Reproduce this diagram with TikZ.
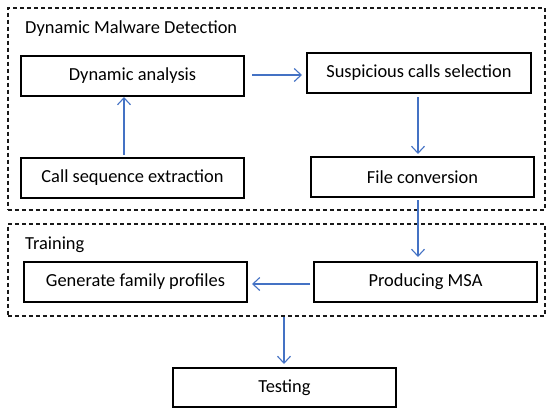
\documentclass[tikz,border=0pt]{standalone}
\usepackage{fontspec}
\setmainfont{Carlito}
\usetikzlibrary{arrows.meta}
\definecolor{arrowblue}{HTML}{4472C4}
\begin{document}
\begin{tikzpicture}[x=1pt,y=-1pt,
  procbox/.style={draw=black,line width=1.6pt,fill=white},
  group/.style={draw=black!90,line width=1.5pt,dash pattern=on 4pt off 3pt},
  flow/.style={draw=arrowblue,line width=1.1pt,-{Straight Barb[length=7pt,width=13pt]}},
  lbl/.style={font=\fontsize{18.4}{20}\selectfont}]
\useasboundingbox (0,0) rectangle (550,415);
% groups
\node[group,minimum width=537pt,minimum height=202pt,anchor=north west,inner sep=0pt] (g1) at (7,7) {};
\node[group,minimum width=537pt,minimum height=92pt,anchor=north west,inner sep=0pt] (g2) at (7,223) {};
\node[lbl,anchor=base west,inner sep=0pt] (t1) at (25,33) {Dynamic Malware Detection};
\node[lbl,anchor=base west,inner sep=0pt] (t2) at (25,249) {Training};
% boxes
\node[procbox,lbl,minimum width=223pt,minimum height=40pt] (da) at (132.5,76) {Dynamic analysis};
\node[procbox,lbl,minimum width=223pt,minimum height=40pt] (cs) at (132.5,178) {Call sequence extraction};
\node[procbox,lbl,minimum width=224pt,minimum height=40pt] (sc) at (419,73) {Suspicious calls selection};
\node[procbox,lbl,minimum width=223pt,minimum height=40pt] (fc) at (422.5,177) {File conversion};
\node[procbox,lbl,minimum width=223pt,minimum height=40pt] (gf) at (135.5,282) {Generate family profiles};
\node[procbox,lbl,minimum width=223pt,minimum height=40pt] (pm) at (425.5,282) {Producing MSA};
\node[procbox,lbl,minimum width=223pt,minimum height=39pt] (te) at (284.5,387.5) {Testing};
% connectors
\coordinate (a1s) at (124,155);
\coordinate (a1e) at (124,97);
\draw[flow] (a1s) -- (a1e);
\coordinate (a2s) at (252,75);
\coordinate (a2e) at (302,75);
\draw[flow] (a2s) -- (a2e);
\coordinate (a3s) at (418,97);
\coordinate (a3e) at (418,154);
\draw[flow] (a3s) -- (a3e);
\coordinate (a4s) at (418,200);
\coordinate (a4e) at (418,257);
\draw[flow] (a4s) -- (a4e);
\coordinate (a5s) at (310,284);
\coordinate (a5e) at (252,284);
\draw[flow] (a5s) -- (a5e);
\coordinate (a6s) at (284,317);
\coordinate (a6e) at (284,364);
\draw[flow] (a6s) -- (a6e);
\end{tikzpicture}
\end{document}
